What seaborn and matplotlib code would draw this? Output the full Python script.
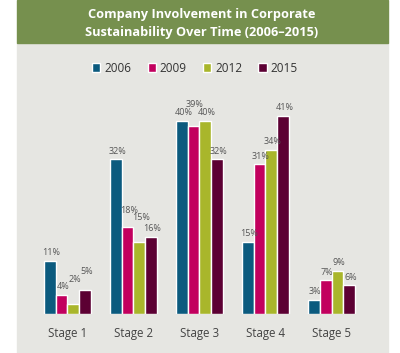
import pandas as pd
import matplotlib
matplotlib.use('Agg')
import matplotlib.pyplot as plt
import matplotlib.patches as mpatches
import seaborn as sns

# Data
stages = ['Stage 1', 'Stage 2', 'Stage 3', 'Stage 4', 'Stage 5']
years = ['2006', '2009', '2012', '2015']
v2006 = [11, 32, 40, 15, 3]
v2009 = [4, 18, 39, 31, 7]
v2012 = [2, 15, 40, 34, 9]
v2015 = [5, 16, 32, 41, 6]

colors = ['#0b5a7e', '#c2005e', '#a9b62b', '#5c0033']

# extra lift (pixels) for labels that sit higher in the original, keyed by (year idx, stage idx)
label_lift = {(2, 0): 17, (3, 0): 10, (1, 1): 9, (2, 1): 16, (1, 2): 13}

df = pd.DataFrame({'Stage': stages * 4,
                   'Year': sum([[y] * 5 for y in years], []),
                   'Value': v2006 + v2009 + v2012 + v2015})

sns.set_style('white')
plt.rcParams['font.family'] = ['Open Sans', 'DejaVu Sans']

W, H = 400, 353
fig = plt.figure(figsize=(W / 100, H / 100), dpi=100)
fig.patch.set_facecolor('white')

# panel background and green header
fig.patches.append(mpatches.Rectangle((17 / W, 0), 371 / W, (H - 43) / H,
                                      transform=fig.transFigure, color='#e6e6e2', zorder=-5))
fig.patches.append(mpatches.Rectangle((17 / W, (H - 43) / H), 371 / W, 43 / H,
                                      transform=fig.transFigure, color='#76904e', zorder=-5))
fig.text(202 / W, 1 - 23.5 / H, 'Company Involvement in Corporate\nSustainability Over Time (2006\u20132015)',
         ha='center', va='center', color='white', fontsize=9.2, fontweight='bold', linespacing=1.45)

ax = fig.add_axes([17 / W, (H - 314) / H, 371 / W, 271 / H])
ax.patch.set_alpha(0)
sns.barplot(data=df, x='Stage', y='Value', hue='Year', hue_order=years,
            palette=colors, width=0.71, ax=ax, saturation=1)

ax.set_xlim(-0.765, 4.856)
ax.set_ylim(0, 56.1)
for s in ax.spines.values():
    s.set_visible(False)
ax.set_yticks([])
ax.set_xlabel('')
ax.set_ylabel('')
ax.tick_params(axis='x', length=0, pad=9, labelsize=8.3, labelcolor='#444444')

for i, cont in enumerate(ax.containers):
    texts = ax.bar_label(cont, labels=[f'{int(b.get_height())}%' for b in cont],
                         padding=2.5, fontsize=6.5, color='#555555')
    for j, t in enumerate(texts):
        lift = label_lift.get((i, j), 0) * 0.72
        t.xyann = (t.xyann[0] + 1.0, t.xyann[1] + lift)

ax.legend(loc='center', bbox_to_anchor=(195 / W, 1 - 68 / H), bbox_transform=fig.transFigure,
          ncol=4, frameon=False, handlelength=0.7, handleheight=0.85, handletextpad=0.35,
          columnspacing=1.35, fontsize=8.5, labelcolor='#333333')

fig.savefig('out.png', dpi=100)
